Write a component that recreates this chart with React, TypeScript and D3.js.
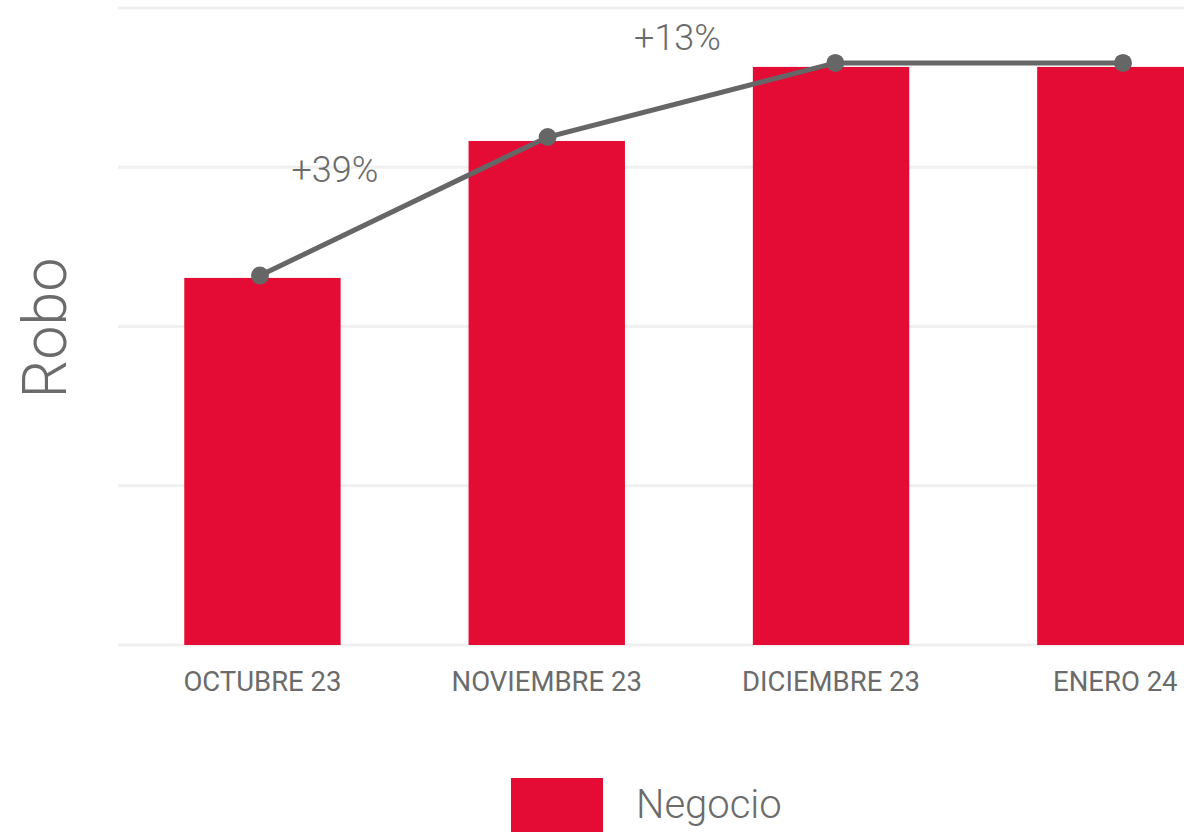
import React from "react";
import * as d3 from "d3";

const months: string[] = ["OCTUBRE 23", "NOVIEMBRE 23", "DICIEMBRE 23", "ENERO 24"];
const negocio: number[] = [23.05, 31.65, 36.3, 36.3];
const trend: number[] = [23.2, 31.9, 36.55, 36.55];
const changeLabels: string[] = ["+39%", "+13%"];
const yTicks: number[] = [0, 10, 20, 30, 40];

const W = 1184;
const H = 832;
const FONT = "Roboto, 'Open Sans', sans-serif";
const RED = "#E40B34";
const GRAY = "#666666";
const TEXT = "#6b6b6b";

export default function App() {
  const x = d3
    .scaleBand<string>()
    .domain(months)
    .range([120.3, 1257.5])
    .paddingInner(0.45)
    .paddingOuter(0.225);
  const xLine = d3.scalePoint<string>().domain(months).range([260, 1123]);
  const y = d3.scaleLinear().domain([0, 40]).range([645, 8]);

  const line = d3
    .line<number>()
    .x((_, i) => xLine(months[i]) as number)
    .y((d) => y(d));

  const labelOffsets = [
    { dx: -69, dy: -24 },
    { dx: -14, dy: -50 },
  ];

  return (
    <svg
      width={W}
      height={H}
      style={{ position: "absolute", left: 0, top: 0, background: "#fff" }}
      fontFamily={FONT}
    >
      {yTicks.map((t) => (
        <line
          key={t}
          x1={118}
          x2={W}
          y1={y(t)}
          y2={y(t)}
          stroke="#f0f0f0"
          strokeWidth={3}
        />
      ))}
      {months.map((m, i) => (
        <rect
          key={m}
          x={x(m)}
          y={y(negocio[i])}
          width={x.bandwidth()}
          height={y(0) - y(negocio[i])}
          fill={RED}
        />
      ))}
      {months.map((m) => (
        <text
          key={m}
          x={(x(m) as number) + x.bandwidth() / 2}
          y={691}
          textAnchor="middle"
          fontSize={27.5}
          fill={TEXT}
        >
          {m}
        </text>
      ))}
      <path d={line(trend) || ""} fill="none" stroke={GRAY} strokeWidth={5} />
      {trend.map((v, i) => (
        <circle key={i} cx={xLine(months[i])} cy={y(v)} r={9} fill={GRAY} />
      ))}
      {changeLabels.map((lab, i) => {
        const mx = ((xLine(months[i]) as number) + (xLine(months[i + 1]) as number)) / 2;
        const my = (y(trend[i]) + y(trend[i + 1])) / 2;
        return (
          <text
            key={lab}
            x={mx + labelOffsets[i].dx}
            y={my + labelOffsets[i].dy}
            textAnchor="middle"
            fontSize={36}
            fontWeight={300}
            fill={TEXT}
          >
            {lab}
          </text>
        );
      })}
      <text
        transform={`translate(66, 328) rotate(-90)`}
        textAnchor="middle"
        fontSize={61}
        fontWeight={300}
        fill={TEXT}
      >
        Robo
      </text>
      <rect x={511} y={778} width={92} height={60} fill={RED} />
      <text x={636} y={818} fontSize={40} fontWeight={300} fill={TEXT}>
        Negocio
      </text>
    </svg>
  );
}
